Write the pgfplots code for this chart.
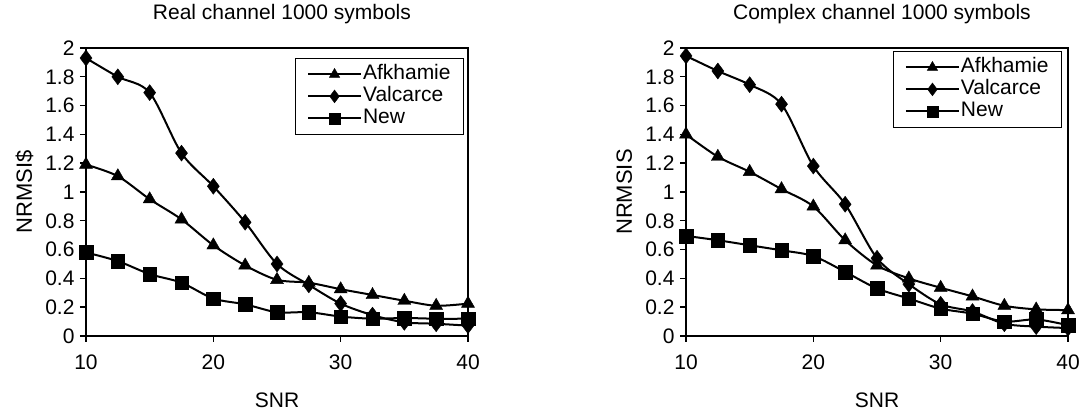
\documentclass[border=0pt]{standalone}
\usepackage{fontspec}
\setmainfont{Liberation Sans}
\usepackage{pgfplots}
\usepackage{pgfplotstable}
\pgfplotsset{compat=1.18}

\pgfplotstableread{
x A V N
10 1.19 1.93 0.58
12.5 1.11 1.80 0.52
15 0.95 1.69 0.43
17.5 0.81 1.27 0.37
20 0.63 1.04 0.26
22.5 0.49 0.79 0.22
25 0.39 0.50 0.165
27.5 0.37 0.355 0.165
30 0.325 0.225 0.135
32.5 0.285 0.145 0.12
35 0.245 0.095 0.125
37.5 0.21 0.085 0.12
40 0.225 0.072 0.12
}\realdata

\pgfplotstableread{
x A V N
10 1.40 1.945 0.695
12.5 1.245 1.84 0.665
15 1.14 1.745 0.63
17.5 1.02 1.61 0.595
20 0.90 1.18 0.555
22.5 0.665 0.915 0.445
25 0.49 0.54 0.33
27.5 0.40 0.36 0.26
30 0.335 0.22 0.19
32.5 0.275 0.17 0.155
35 0.21 0.085 0.10
37.5 0.185 0.065 0.115
40 0.18 0.055 0.075
}\complexdata

\pgfplotsset{
  mylegend/.style={legend image code/.code={
      \draw[##1, mark=none] (0pt,0pt) -- (53pt,0pt);
      \draw[##1, only marks, every mark/.append style={scale=0.8}] plot coordinates {(26.5pt,0pt)};
    }},
  myaxis/.style={
    scale only axis, width=382pt, height=288pt,
    xmin=10, xmax=40, ymin=0, ymax=2,
    xtick={10,20,30,40}, xticklabels={10,20,30,40},
    ytick={0,0.2,0.4,0.6,0.8,1,1.2,1.4,1.6,1.8,2},
    yticklabels={0,0.2,0.4,0.6,0.8,1,1.2,1.4,1.6,1.8,2},
    tick align=outside, xtick pos=bottom, ytick pos=left,
    major tick length=6pt,
    major tick style={black, line width=1.4pt},
    axis line style={black, line width=1.6pt},
    tick label style={font=\fontsize{21}{24}\selectfont},
    yticklabel style={xshift=-2pt},
    xticklabel style={yshift=-9pt},
    title style={at={(axis description cs:0.513,1.0764)}, anchor=base, font=\fontsize{21}{24}\selectfont},
    xlabel style={at={(axis description cs:0.5,-0.25)}, anchor=base, font=\fontsize{21}{24}\selectfont},
    ylabel style={at={(axis description cs:-0.1414,0.5)}, anchor=base, rotate=0, font=\fontsize{22}{24}\selectfont},
    xlabel={SNR},
    legend cell align=left,
    legend style={draw=black, line width=0.8pt,
      font=\fontsize{21}{24}\selectfont,
      inner xsep=12pt, inner ysep=5pt, row sep=0pt,
      nodes={inner sep=1pt, text height=15.5pt, text depth=4.5pt}},
    every axis plot/.append style={black, line width=2pt, smooth,
      mark options={solid, line width=0.4pt, fill=black}},
  }
}

\begin{document}
\begin{tikzpicture}
\path[use as bounding box] (0,0) rectangle (1084pt,414pt);
\begin{axis}[myaxis, at={(86pt,78pt)}, anchor=south west,
  title={Real channel 1000 symbols}, ylabel={NRMSI\$},
  legend style={at={(0.9895,0.9653)}, anchor=north east}]
\addplot[mark=triangle*, mark size=7.5pt, mylegend] table[x=x,y=A] {\realdata};
\addlegendentry{Afkhamie}
\addplot[mark=diamond*, mark size=8pt, mylegend] table[x=x,y=V] {\realdata};
\addlegendentry{Valcarce}
\addplot[mark=square*, mark size=6.8pt, mylegend] table[x=x,y=N] {\realdata};
\addlegendentry{New}
\end{axis}
\begin{axis}[myaxis, at={(686pt,78pt)}, anchor=south west,
  title={Complex channel 1000 symbols}, ylabel={NRMSIS},
  legend style={at={(0.984,0.9896)}, anchor=north east}]
\addplot[mark=triangle*, mark size=7.5pt, mylegend] table[x=x,y=A] {\complexdata};
\addlegendentry{Afkhamie}
\addplot[mark=diamond*, mark size=8pt, mylegend] table[x=x,y=V] {\complexdata};
\addlegendentry{Valcarce}
\addplot[mark=square*, mark size=6.8pt, mylegend] table[x=x,y=N] {\complexdata};
\addlegendentry{New}
\end{axis}
\end{tikzpicture}
\end{document}
